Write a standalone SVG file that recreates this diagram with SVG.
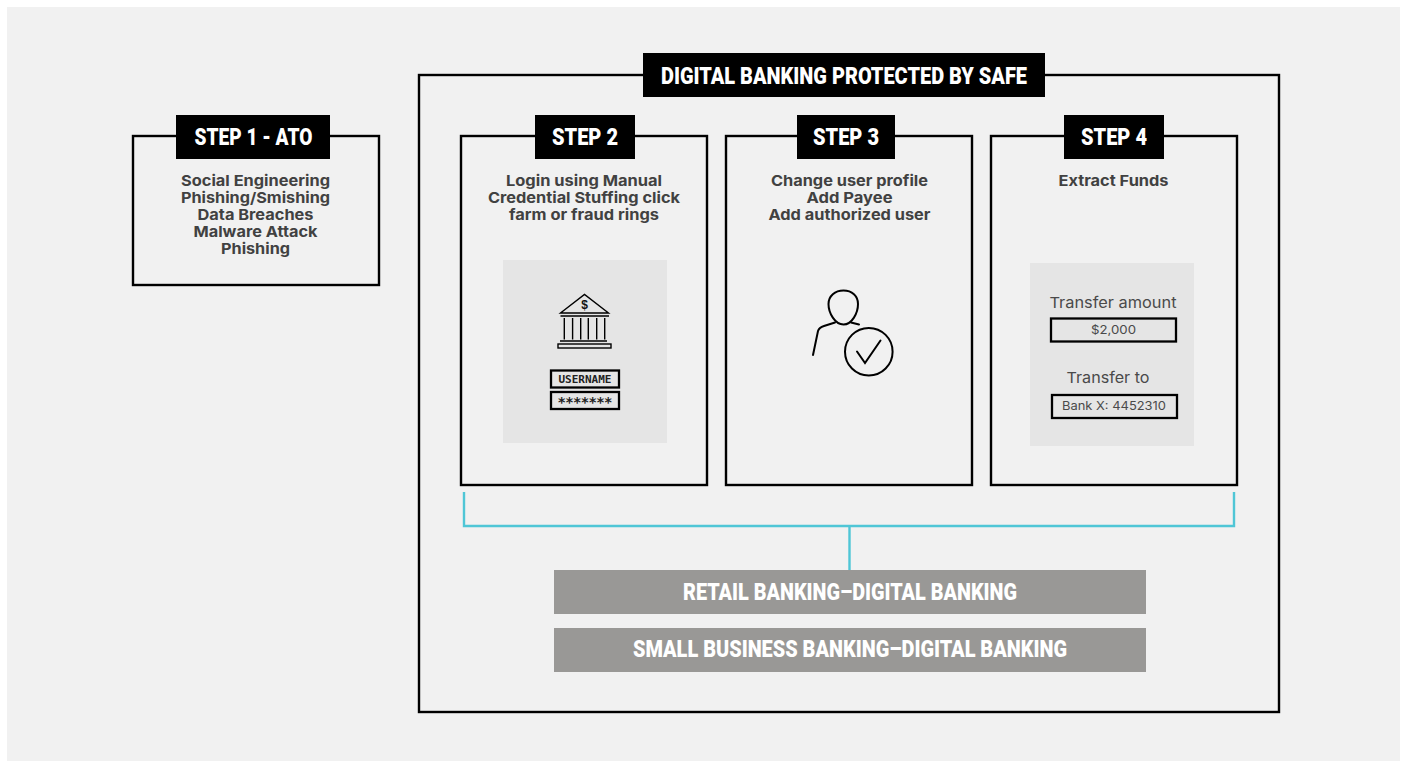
<svg xmlns="http://www.w3.org/2000/svg" width="1405" height="761" viewBox="0 0 1405 761">
<style>
.box{fill:none;stroke:#000;stroke-width:2.400}
.tag{fill:#000}
.head{font-family:"Roboto","Liberation Sans",sans-serif;font-weight:900;font-size:24px;fill:#fff;text-anchor:middle}
.bar{fill:#999896}
.barT{font-family:"Roboto","Liberation Sans",sans-serif;font-weight:900;font-size:24px;fill:#fff;text-anchor:middle}
.body{font-family:"Inter","Liberation Sans",sans-serif;font-weight:700;font-size:15px;fill:#414141;text-anchor:middle}
.panel{fill:#e5e5e5}
.ico{fill:none;stroke:#000;stroke-width:1.400}
.per{fill:none;stroke:#000;stroke-width:2;stroke-linecap:round}
.field{fill:none;stroke:#000;stroke-width:2.300}
.mono{font-family:"DejaVu Sans Mono","Liberation Mono",monospace;font-weight:700;font-size:11px;fill:#222;text-anchor:middle}
.lab{font-family:"Inter","Liberation Sans",sans-serif;font-size:15px;fill:#4a4a4a;text-anchor:middle}
.val{font-family:"Inter","Liberation Sans",sans-serif;font-size:11.500px;fill:#4a4a4a;text-anchor:middle}
.conn{fill:none;stroke:#4fc6d6;stroke-width:2.400}
</style>
<rect width="1405" height="761" fill="#fff"/>
<rect x="7" y="7" width="1393" height="754" fill="#f1f1f1"/>
<g id="safe-frame">
<rect class="box" x="419" y="75" width="860" height="637"/>
<rect class="tag" x="643" y="53" width="402" height="44"/>
<text class="head" x="844" y="84" textLength="366" lengthAdjust="spacingAndGlyphs">DIGITAL BANKING PROTECTED BY SAFE</text>
</g>
<g id="step1">
<rect class="box" x="133" y="136" width="246" height="149"/>
<rect class="tag" x="176" y="115" width="154" height="44"/>
<text class="head" x="253.500" y="145" textLength="118" lengthAdjust="spacingAndGlyphs">STEP 1 - ATO</text>
<text class="body" x="255.500" y="186" textLength="149" lengthAdjust="spacingAndGlyphs">Social Engineering</text>
<text class="body" x="255.500" y="203" textLength="149" lengthAdjust="spacingAndGlyphs">Phishing/Smishing</text>
<text class="body" x="255.500" y="220" textLength="116" lengthAdjust="spacingAndGlyphs">Data Breaches</text>
<text class="body" x="255.500" y="237" textLength="124" lengthAdjust="spacingAndGlyphs">Malware Attack</text>
<text class="body" x="255.500" y="254" textLength="69" lengthAdjust="spacingAndGlyphs">Phishing</text>
</g>
<g id="step2">
<rect class="box" x="461" y="136" width="246" height="349"/>
<rect class="tag" x="535" y="115" width="100" height="44"/>
<text class="head" x="585" y="145" textLength="66" lengthAdjust="spacingAndGlyphs">STEP 2</text>
<text class="body" x="584" y="186" textLength="156" lengthAdjust="spacingAndGlyphs">Login using Manual</text>
<text class="body" x="584" y="203" textLength="192" lengthAdjust="spacingAndGlyphs">Credential Stuffing click</text>
<text class="body" x="584" y="220" textLength="150" lengthAdjust="spacingAndGlyphs">farm or fraud rings</text>
<rect class="panel" x="503" y="260" width="164" height="183"/>
<path class="ico" d="M560.500 313L584.500 294.500L608.500 313ZM560.500 316H609M560 341H607M564.300 318V339.500M572.600 318V339.500M580.700 318V339.500M588.300 318V339.500M596.700 318V339.500M604.700 318V339.500"/>
<rect class="ico" x="558" y="344" width="53" height="4"/>
<text x="584.500" y="309" font-family="Liberation Sans,sans-serif" font-size="12" font-weight="700" fill="#111" text-anchor="middle">$</text>
<rect class="field" x="551" y="370.500" width="68" height="17"/>
<text class="mono" x="585" y="383" textLength="53" lengthAdjust="spacingAndGlyphs">USERNAME</text>
<rect class="field" x="551" y="392" width="68" height="17"/>
<text class="mono" x="585" y="407" style="font-size:14px" textLength="55" lengthAdjust="spacing">*******</text>
</g>
<g id="step3">
<rect class="box" x="726" y="136" width="246" height="349"/>
<rect class="tag" x="797" y="115" width="98" height="44"/>
<text class="head" x="846" y="145" textLength="66" lengthAdjust="spacingAndGlyphs">STEP 3</text>
<text class="body" x="849.500" y="186" textLength="157" lengthAdjust="spacingAndGlyphs">Change user profile</text>
<text class="body" x="849.500" y="203" textLength="86" lengthAdjust="spacingAndGlyphs">Add Payee</text>
<text class="body" x="849.500" y="220" textLength="162" lengthAdjust="spacingAndGlyphs">Add authorized user</text>
<path class="per" d="M843.500 290.500C835 290.500 828.500 296 828.500 304C828.500 313 835 324.500 843.500 324.500C852 324.500 858 313 858 304C858 296 852 290.500 843.500 290.500Z"/>
<path class="per" d="M813 355L818 331C819 328 821 327 824 326L835 322.500M851 322.500L859 324.500"/>
<circle class="per" cx="868.800" cy="351.700" r="23.800"/>
<path class="per" d="M857 351.500L865 363L880.500 340.500"/>
</g>
<g id="step4">
<rect class="box" x="991" y="136" width="246" height="349"/>
<rect class="tag" x="1064" y="115" width="100" height="44"/>
<text class="head" x="1114" y="145" textLength="66" lengthAdjust="spacingAndGlyphs">STEP 4</text>
<text class="body" x="1113.500" y="186" textLength="110" lengthAdjust="spacingAndGlyphs">Extract Funds</text>
<rect class="panel" x="1030" y="263" width="164" height="183"/>
<text class="lab" x="1113" y="308" textLength="127" lengthAdjust="spacingAndGlyphs">Transfer amount</text>
<rect class="field" x="1051" y="318.500" width="125" height="23"/>
<text class="val" x="1113.500" y="334" textLength="45" lengthAdjust="spacingAndGlyphs">$2,000</text>
<text class="lab" x="1108" y="383" textLength="83" lengthAdjust="spacingAndGlyphs">Transfer to</text>
<rect class="field" x="1052" y="395" width="125" height="23"/>
<text class="val" x="1114" y="410" textLength="104" lengthAdjust="spacingAndGlyphs">Bank X: 4452310</text>
</g>
<g id="connectors">
<path class="conn" d="M464 492V526H1234V492M849.500 526V570"/>
</g>
<g id="retail-banking">
<rect class="bar" x="554" y="570" width="592" height="44"/>
<text class="barT" x="850" y="600" textLength="334" lengthAdjust="spacingAndGlyphs">RETAIL BANKING–DIGITAL BANKING</text>
</g>
<g id="small-business-banking">
<rect class="bar" x="554" y="628" width="592" height="44"/>
<text class="barT" x="850" y="657" textLength="434" lengthAdjust="spacingAndGlyphs">SMALL BUSINESS BANKING–DIGITAL BANKING</text>
</g>
</svg>
